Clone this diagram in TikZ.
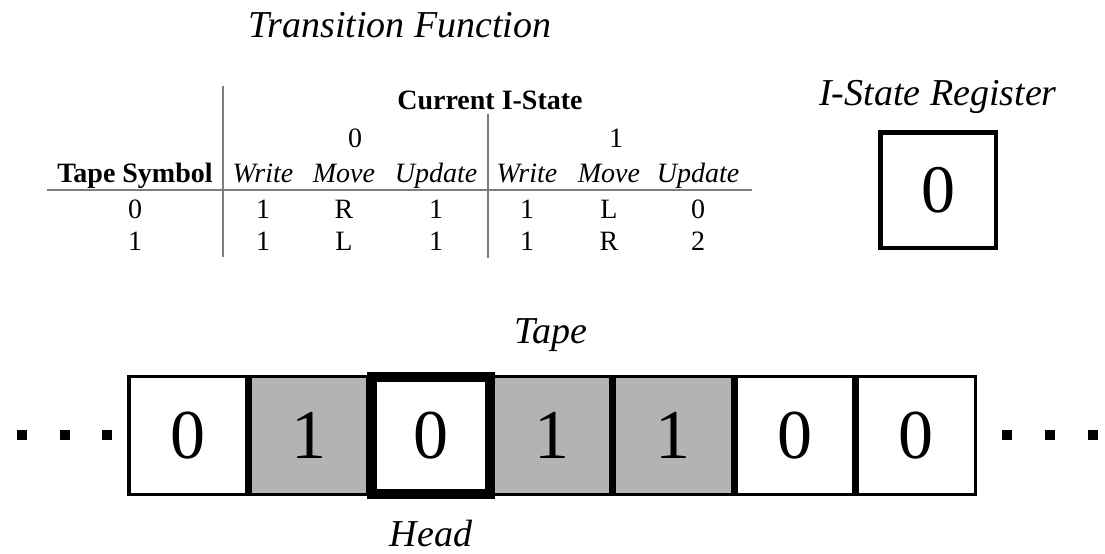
\documentclass[tikz,border=0pt]{standalone}
\usepackage{fontspec}
\setmainfont{Liberation Serif}
\definecolor{tapegray}{RGB}{179,179,179}
\definecolor{rulegray}{RGB}{125,125,125}
\tikzset{
  title/.style={font=\fontsize{19}{22}\selectfont\itshape, anchor=base, inner sep=0pt},
  tab/.style={font=\fontsize{14}{16}\selectfont, anchor=base, inner sep=0pt},
  tabbold/.style={tab, font=\fontsize{14}{16}\selectfont\bfseries},
  tabit/.style={tab, font=\fontsize{14}{16}\selectfont\itshape},
  tapecell/.style={draw, line width=1.75pt, minimum size=58.95pt, inner sep=0pt,
    font=\fontsize{35}{40}\selectfont},
  headcell/.style={tapecell, fill=white, line width=5pt, minimum width=59pt, minimum height=58.5pt},
  regbox/.style={tapecell, line width=2.25pt, minimum size=57.75pt, font=\fontsize{34}{40}\selectfont}
}
\begin{document}
\begin{tikzpicture}[x=0.5pt,y=-0.5pt]
  \useasboundingbox (0,0) rectangle (1105,553);

  % transition function
  \node[title] (tftitle) at (400,37) {Transition Function};
  \node[tabbold] (curr) at (490,109) {Current I-State};
  \node[tab] (st0) at (355,147) {0};
  \node[tab] (st1) at (616,147) {1};
  \node[tabbold] (tsym) at (135,182) {Tape Symbol};
  \foreach \x/\t [count=\i] in {263/Write,344/Move,436/Update,527/Write,609/Move,698/Update}
    \node[tabit] (col\i) at (\x,182) {\t};
  \node[tab] (sym0) at (135,218) {0};
  \node[tab] (sym1) at (135,250) {1};
  \foreach \x/\a/\b [count=\i] in {263/1/1,344/R/L,436/1/1,527/1/1,609/L/R,698/0/2} {
    \node[tab] (r0c\i) at (\x,218) {\a};
    \node[tab] (r1c\i) at (\x,250) {\b};
  }
  \draw[rulegray, line width=1pt] (47,190) -- (752,190);
  \draw[rulegray, line width=1pt] (223,86) -- (223,257);
  \draw[rulegray, line width=1pt] (488,114) -- (488,258);

  % register
  \node[title] (reglabel) at (938,105) {I-State Register};
  \node[regbox] (reg) at (938,190) {0};

  % tape
  \node[title] (tapelabel) at (551,343) {Tape};
  \foreach \i/\d/\f in {1/0/white,2/1/tapegray,4/1/tapegray,5/1/tapegray,6/0/white,7/0/white}
    \node[tapecell, fill=\f] (cell\i) at ({127+121.43*(\i-0.5)},435.5) {\d};
  \node[headcell] (cell3) at (431,435.5) {0};
  \node[title] (headlabel) at (431,546) {Head};
  \foreach \x in {22,65,107,1007,1050,1093}
    \fill (\x-5,430) rectangle (\x+5,440);
\end{tikzpicture}
\end{document}
